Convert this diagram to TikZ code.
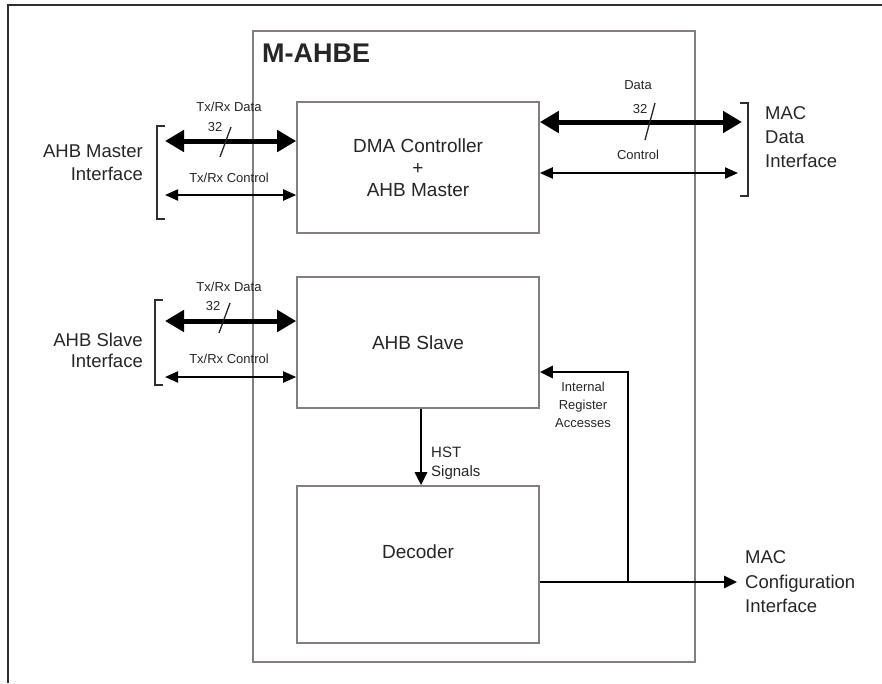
\documentclass[tikz,border=0pt]{standalone}
\usepackage{fontspec}
\setmainfont{Liberation Sans}
\usetikzlibrary{arrows.meta}

\definecolor{framec}{HTML}{2E2E2E}
\definecolor{edgec}{HTML}{857E7E}
\definecolor{inkc}{HTML}{262626}

\tikzset{
  blk/.style={draw=edgec, line width=1.6pt, fill=white, inner sep=0pt},
  txt/.style={text=inkc, inner sep=0pt},
  big/.style={txt, font=\fontsize{19}{22}\selectfont, align=center},
  side/.style={txt, font=\fontsize{18.5}{23}\selectfont},
  small/.style={txt, font=\fontsize{13}{18}\selectfont, align=center},
  bus/.style={line width=5pt, draw=black,
    {Triangle[length=19pt,width=21pt]}-{Triangle[length=19pt,width=21pt]}},
  ctl/.style={line width=2pt, draw=black,
    {Triangle[length=13pt,width=11pt]}-{Triangle[length=13pt,width=11pt]}},
  sig/.style={line width=2.8pt, draw=black, -{Triangle[length=13pt,width=12pt]}},
  brk/.style={draw=framec, line width=1.5pt},
  slash/.style={draw=inkc, line width=1.3pt}
}

\begin{document}
\begin{tikzpicture}[x=1pt,y=-1pt]
\useasboundingbox (0,0) rectangle (882,683);

% outer frame
\draw[framec, line width=1.6pt] (8,683) -- (8,5) -- (882,5);

% M-AHBE block and its inner units
\node[blk, minimum width=442pt, minimum height=631pt] (mahbe) at (474,346.5) {};
\node[txt, anchor=west, font=\fontsize{27}{27}\selectfont\bfseries] (title) at (262,53) {M-AHBE};

\node[blk, big, minimum width=242pt, minimum height=131pt] (dma) at (418,167.5)
  {DMA Controller\\+\\AHB Master};
\node[blk, big, minimum width=242pt, minimum height=131pt] (slave) at (418,342.5) {AHB Slave};
\node[blk, minimum width=242pt, minimum height=157pt] (dec) at (418,564.5) {};
\node[big] (dectxt) at (418,552) {Decoder};

% external interface labels
\node[side, align=right, anchor=east] (mstlbl) at (143,163) {AHB Master\\Interface};
\node[side, font=\fontsize{18.5}{21}\selectfont, align=right, anchor=east] (slvlbl) at (143,350) {AHB Slave\\Interface};
\node[side, font=\fontsize{18.5}{24}\selectfont, align=left, anchor=west] (macdlbl) at (765,137) {MAC\\Data\\Interface};
\node[side, font=\fontsize{18.5}{24.5}\selectfont, align=left, anchor=west] (macclbl) at (745,582) {MAC\\Configuration\\Interface};

% brackets
\draw[brk] (165,126) -- (157,126) -- (157,219) -- (165,219);
\draw[brk] (163,300) -- (155,300) -- (155,385) -- (163,385);
\draw[brk] (740,103) -- (748,103) -- (748,196) -- (740,196);

% connector end points at the brackets
\coordinate (mdL) at (165,141);
\coordinate (mcL) at (165,195);
\coordinate (sdL) at (165,321);
\coordinate (scL) at (165,377);
\coordinate (rdR) at (742,122);
\coordinate (rcR) at (738,173);
\coordinate (hstx) at (421,0);
\coordinate (jn) at (628,582);
\coordinate (regy) at (0,372);
\coordinate (cfgR) at (737,582);

% AHB master side
\draw[bus] (mdL) -- (dma.west |- mdL);
\draw[ctl] (mcL) -- (dma.west |- mcL);
\node[small] (mdlbl) at (229,107) {Tx/Rx Data};
\node[small] (mdw) at (215,127) {32};
\draw[slash] (220,157) -- (231,127);
\node[small] (mclbl) at (229,178) {Tx/Rx Control};

% AHB slave side
\draw[bus] (sdL) -- (slave.west |- sdL);
\draw[ctl] (scL) -- (slave.west |- scL);
\node[small] (sdlbl) at (229,287) {Tx/Rx Data};
\node[small] (sdw) at (213,306) {32};
\draw[slash] (219,333) -- (230,303);
\node[small] (sclbl) at (229,359) {Tx/Rx Control};

% MAC data side
\draw[bus] (dma.east |- rdR) -- (rdR);
\draw[ctl] (dma.east |- rcR) -- (rcR);
\node[small] (rdlbl) at (638,85) {Data};
\node[small] (rdw) at (640,109) {32};
\draw[slash] (645,140) -- (655,103);
\node[small] (rclbl) at (638,155) {Control};

% slave to decoder
\draw[sig] (slave.south -| hstx) -- (dec.north -| hstx);
\node[txt, font=\fontsize{15}{19}\selectfont, align=left, anchor=west] (hstlbl) at (431,463) {HST\\Signals};

% decoder output and register access return path
\draw[sig] (dec.east |- jn) -- (cfgR);
\draw[sig] (jn) |- (slave.east |- regy);
\node[small] (reglbl) at (583,405) {Internal\\Register\\Accesses};
\end{tikzpicture}
\end{document}
